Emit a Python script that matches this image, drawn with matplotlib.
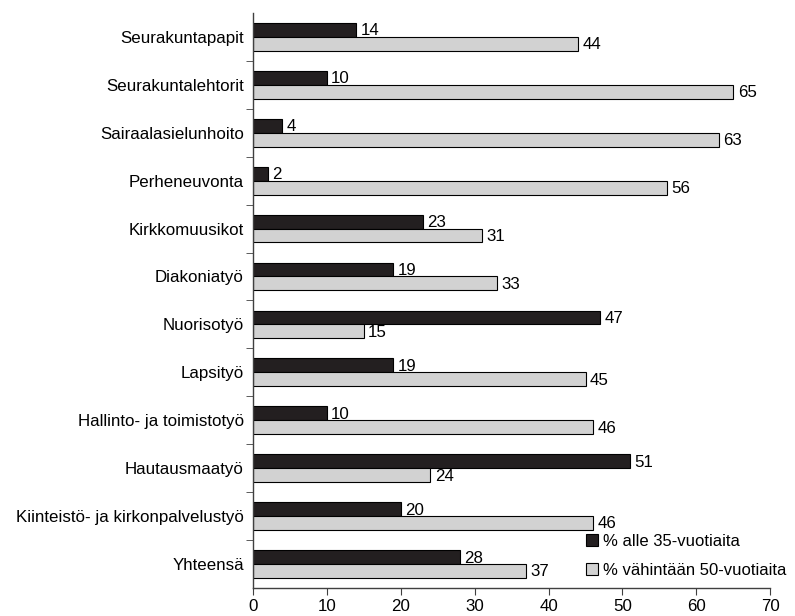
import numpy as np
import matplotlib.pyplot as plt

plt.rcParams['font.family'] = ['Liberation Sans', 'DejaVu Sans']

categories = ['Seurakuntapapit', 'Seurakuntalehtorit', 'Sairaalasielunhoito',
              'Perheneuvonta', 'Kirkkomuusikot', 'Diakoniatyö', 'Nuorisotyö',
              'Lapsityö', 'Hallinto- ja toimistotyö', 'Hautausmaatyö',
              'Kiinteistö- ja kirkonpalvelustyö', 'Yhteensä']
under_35 = [14, 10, 4, 2, 23, 19, 47, 19, 10, 51, 20, 28]
over_50 = [44, 65, 63, 56, 31, 33, 15, 45, 46, 24, 46, 37]
labels = ['% alle 35-vuotiaita', '% vähintään 50-vuotiaita']

fs = 12.2

fig = plt.figure(figsize=(7.95, 6.16), dpi=100)
ax = fig.add_axes([0.318, 0.0455, 0.651, 0.9335])

n = len(categories)
y = np.arange(n)
h = 0.29

b1 = ax.barh(y - h / 2, under_35, height=h, color='#231f20',
             edgecolor='black', linewidth=0.8, label=labels[0])
b2 = ax.barh(y + h / 2, over_50, height=h, color='#d2d2d2',
             edgecolor='black', linewidth=0.8, label=labels[1])

for bars, vals in ((b1, under_35), (b2, over_50)):
    for b, v in zip(bars, vals):
        ax.text(v + 0.6, b.get_y() + b.get_height() / 2 + 0.02, str(v),
                va='center', ha='left', fontsize=fs)

ax.set_ylim(n - 0.5, -0.5)
ax.set_xlim(0, 70)
ax.set_xticks(range(0, 71, 10))
ax.set_yticks(y)
ax.set_yticklabels(categories, fontsize=fs)
ax.set_yticks(np.arange(0.5, n - 0.5), minor=True)
ax.tick_params(axis='y', which='major', length=0, pad=6.5)
ax.tick_params(axis='y', which='minor', length=5, direction='out',
               color='#404040')
ax.tick_params(axis='x', length=5, direction='out', labelsize=fs,
               color='#404040', pad=3)

for s in ('top', 'right'):
    ax.spines[s].set_visible(False)
for s in ('left', 'bottom'):
    ax.spines[s].set_color('#404040')
    ax.spines[s].set_linewidth(1.0)

ax.legend(loc='lower left', bbox_to_anchor=(0.625, 0.0), frameon=False,
          fontsize=12, handlelength=0.7, handleheight=0.7,
          handletextpad=0.3, labelspacing=0.85, borderaxespad=0.2)

fig.savefig('out.png', dpi=100)
